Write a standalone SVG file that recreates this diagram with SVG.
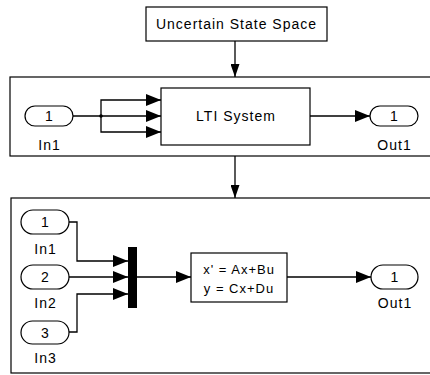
<svg xmlns="http://www.w3.org/2000/svg" width="430" height="375" viewBox="0 0 430 375">
<style>
.b{fill:#fff;stroke:#000;stroke-width:1.2}
.w{fill:none;stroke:#000;stroke-width:1.3}
.t{font-family:"Liberation Sans",Arial,sans-serif;font-size:14px;fill:#000;text-anchor:middle;letter-spacing:1px}
.s{font-size:13px}
</style>
<defs>
<marker id="ah" markerUnits="userSpaceOnUse" markerWidth="15" markerHeight="12" refX="15" refY="6" orient="auto"><path d="M0,0 L15,6 L0,12 z" fill="#000"/></marker>
<marker id="ad" markerUnits="userSpaceOnUse" markerWidth="13" markerHeight="9" refX="13" refY="4.5" orient="auto"><path d="M0,0 L13,4.5 L0,9 z" fill="#000"/></marker>
</defs>
<rect width="430" height="375" fill="#fff"/>
<g id="sub1"><rect class="b" x="10" y="77" width="430" height="79"/></g>
<g id="sub2"><rect class="b" x="11" y="198" width="430" height="175"/></g>
<g id="uss"><rect class="b" x="146" y="7" width="181" height="34"/><text class="t" x="236.5" y="29">Uncertain State Space</text></g>
<g id="in1a"><rect class="b" x="25" y="106" width="48" height="20" rx="10"/><text class="t" x="49.5" y="121">1</text><text class="t" x="49.5" y="150">In1</text></g>
<g id="lti"><rect class="b" x="161" y="88" width="149" height="57"/><text class="t" x="236" y="121">LTI System</text></g>
<g id="out1a"><rect class="b" x="370" y="106" width="48" height="20" rx="10"/><text class="t" x="394.5" y="121">1</text><text class="t" x="394.5" y="150">Out1</text></g>
<g id="in1b"><rect class="b" x="21" y="210" width="48" height="24" rx="12"/><text class="t" x="45.5" y="227">1</text><text class="t" x="45.5" y="254">In1</text></g>
<g id="in2b"><rect class="b" x="21" y="265" width="48" height="24" rx="12"/><text class="t" x="45.5" y="282">2</text><text class="t" x="45.5" y="308">In2</text></g>
<g id="in3b"><rect class="b" x="21" y="321" width="48" height="23" rx="11.5"/><text class="t" x="45.5" y="338">3</text><text class="t" x="45.5" y="363">In3</text></g>
<g id="mux"><rect x="128" y="247" width="9" height="61" fill="#000"/></g>
<g id="ss"><rect class="b" x="191" y="253" width="96" height="49"/><text class="t s" x="239" y="274">x' = Ax+Bu</text><text class="t s" x="239" y="293">y = Cx+Du</text></g>
<g id="out1b"><rect class="b" x="371" y="265" width="47" height="24" rx="12"/><text class="t" x="395" y="282">1</text><text class="t" x="395" y="308">Out1</text></g>
<g id="connectors">
<path class="w" d="M235,41 V77" marker-end="url(#ad)"/>
<path class="w" d="M73,116 H161" marker-end="url(#ah)"/>
<path class="w" d="M101,116 V100 H161" marker-end="url(#ah)"/>
<path class="w" d="M101,116 V132 H161" marker-end="url(#ah)"/>
<circle cx="101" cy="116" r="1.8" fill="#000"/>
<path class="w" d="M310,116 H370" marker-end="url(#ah)"/>
<path class="w" d="M235,156 V198" marker-end="url(#ad)"/>
<path class="w" d="M69,222 H77 V261 H128" marker-end="url(#ah)"/>
<path class="w" d="M69,277 H128" marker-end="url(#ah)"/>
<path class="w" d="M69,332 H77 V294 H128" marker-end="url(#ah)"/>
<path class="w" d="M137,277 H191" marker-end="url(#ah)"/>
<path class="w" d="M287,277 H371" marker-end="url(#ah)"/>
</g>
</svg>
